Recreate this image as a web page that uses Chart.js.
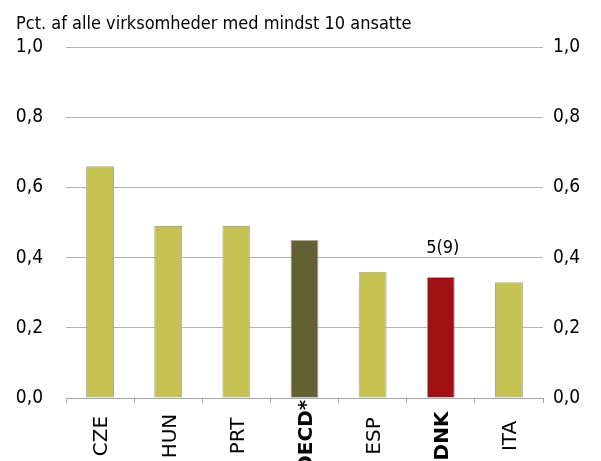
<!DOCTYPE html>
<html>
<head>
<meta charset="utf-8">
<script src="https://cdn.jsdelivr.net/npm/chart.js@4"></script>
<style>html,body{margin:0;padding:0;background:#fff}</style>
</head>
<body>
<canvas id="chart" width="601" height="461"></canvas>
<script>
const categories = ["CZE", "HUN", "PRT", "OECD*", "ESP", "DNK", "ITA"];
const values = [0.66, 0.49, 0.49, 0.45, 0.36, 0.345, 0.33];
const boldCategories = ["OECD*", "DNK"];
const yTickLabels = ["0,0", "0,2", "0,4", "0,6", "0,8", "1,0"];
const titleText = "Pct. af alle virksomheder med mindst 10 ansatte";
const dnkRank = "5(9)";

const YELLOW = "#c5c152", OLIVE = "#636031", RED = "#a00f14";
const barColors = categories.map(c => c === "OECD*" ? OLIVE : c === "DNK" ? RED : YELLOW);
const COND = "'DejaVu Sans Condensed', 'DejaVu Sans'";

// title, rank note and rotated category labels
const overlay = {
  id: "overlay",
  afterDraw(chart) {
    const ctx = chart.ctx, x = chart.scales.x, y = chart.scales.y;
    ctx.save();
    ctx.fillStyle = "#000";
    ctx.font = "18px " + COND;
    ctx.textBaseline = "alphabetic";
    ctx.textAlign = "left";
    ctx.fillText(titleText, 16, 29);

    const i = categories.indexOf("DNK");
    ctx.textAlign = "center";
    ctx.fillText(dnkRank, x.getPixelForValue(i) + 2, y.getPixelForValue(values[i]) - 24);

    const size = 20;
    categories.forEach((c, k) => {
      ctx.save();
      ctx.font = (boldCategories.includes(c) ? "bold " : "") + size + "px 'DejaVu Sans'";
      ctx.translate(x.getPixelForValue(k) + size * 0.365, 436);
      ctx.rotate(-Math.PI / 2);
      ctx.textAlign = "center";
      ctx.fillText(c, 0, 0);
      ctx.restore();
    });
    ctx.restore();
  }
};

const yTicks = (pad) => ({
  stepSize: 0.2,
  padding: pad,
  color: "#000",
  font: { family: COND, size: 19 },
  callback: (v, i) => yTickLabels[i]
});

new Chart(document.getElementById("chart"), {
  type: "bar",
  data: {
    labels: categories,
    datasets: [{
      data: values,
      backgroundColor: barColors,
      borderColor: "#a6a6a6",
      borderWidth: 1,
      barPercentage: 0.41,
      categoryPercentage: 1
    }]
  },
  options: {
    responsive: false,
    animation: false,
    layout: { padding: { top: 47, bottom: 58, left: 0, right: 0 } },
    plugins: { legend: { display: false }, tooltip: { enabled: false } },
    scales: {
      x: {
        grid: { offset: true, drawOnChartArea: false, tickLength: 5, color: "#a6a6a6" },
        border: { color: "#a6a6a6" },
        ticks: { display: false }
      },
      y: {
        position: "left", min: 0, max: 1,
        afterFit: s => { s.width = 66; },
        border: { display: false },
        grid: { color: "#b3b3b3", drawTicks: false },
        ticks: yTicks(23)
      },
      y2: {
        position: "right", min: 0, max: 1,
        afterFit: s => { s.width = 58; },
        border: { display: false },
        grid: { display: false, drawTicks: false },
        ticks: yTicks(10)
      }
    }
  },
  plugins: [overlay]
});
</script>
</body>
</html>
